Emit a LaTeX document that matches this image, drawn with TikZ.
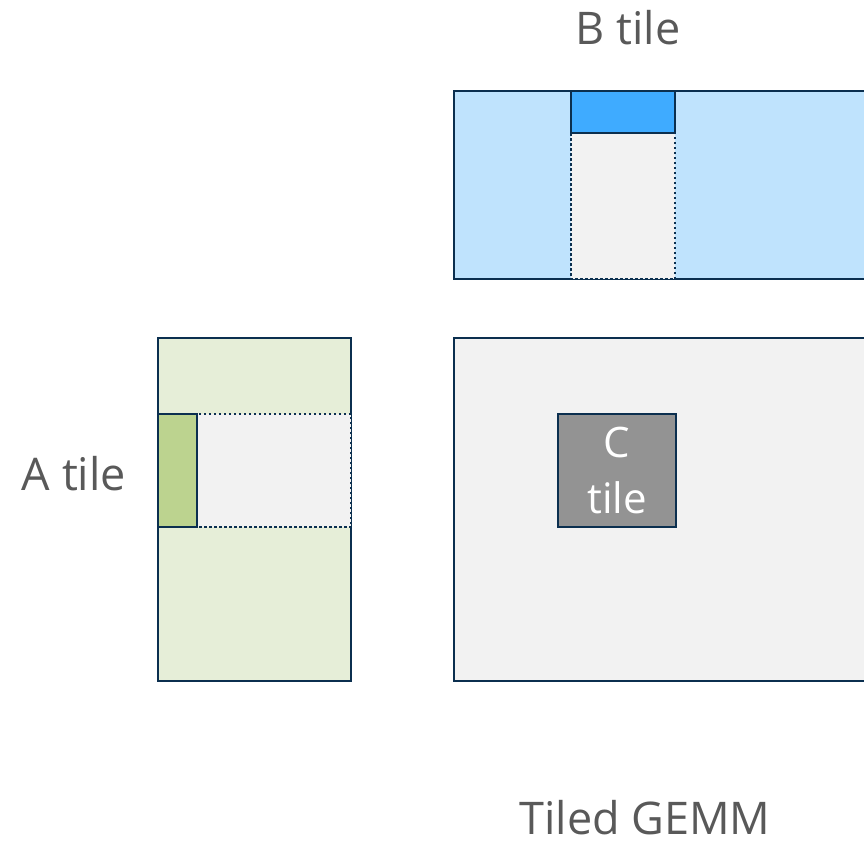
\documentclass[tikz,border=0pt]{standalone}
\usepackage{fontspec}
\setmainfont{Open Sans}
\definecolor{navy}{HTML}{0B2F4F}
\definecolor{bfill}{HTML}{BFE3FD}
\definecolor{btile}{HTML}{3FABFF}
\definecolor{afill}{HTML}{E6EED8}
\definecolor{atile}{HTML}{BCD38F}
\definecolor{lgray}{HTML}{F2F2F2}
\definecolor{ctile}{HTML}{939393}
\definecolor{txt}{HTML}{595959}
\begin{document}
\begin{tikzpicture}[x=1pt,y=-1pt,
  solidbox/.style={draw=navy,line width=2.5pt},
  dotbox/.style={draw=navy,line width=2.5pt,dash pattern=on 2.5pt off 2.5pt,fill=lgray},
  lab/.style={text=txt,font=\fontsize{45}{52}\selectfont,inner sep=0pt,anchor=base}]
\useasboundingbox (0,0) rectangle (864,847);
\begin{scope}
\clip (0,0) rectangle (864,847);
% B matrix
\path[solidbox,fill=bfill] (454,91) rectangle (900,279);
\path[dotbox] (571,133) rectangle (675,279);
\node[solidbox,fill=btile,minimum width=104pt,minimum height=42pt,inner sep=0pt] (bt) at (623,112) {};
% A matrix
\node[solidbox,fill=afill,minimum width=193pt,minimum height=343pt,inner sep=0pt] (am) at (254.5,509.5) {};
\path[dotbox] (197,414) rectangle (351,527);
\node[solidbox,fill=atile,minimum width=39pt,minimum height=113pt,inner sep=0pt] (at) at (177.5,470.5) {};
% C matrix
\path[solidbox,fill=lgray] (454,338) rectangle (900,681);
\node[solidbox,fill=ctile,minimum width=118pt,minimum height=113pt,inner sep=0pt,
  text=white,align=center,font=\fontsize{42}{56}\selectfont] (ct) at (617,470.5) {C\\tile};
\end{scope}
% labels
\node[lab] (blab) at (628,44) {B tile};
\node[lab] (alab) at (74,490) {A tile};
\node[lab] (glab) at (645,834) {Tiled GEMM};
\end{tikzpicture}
\end{document}
